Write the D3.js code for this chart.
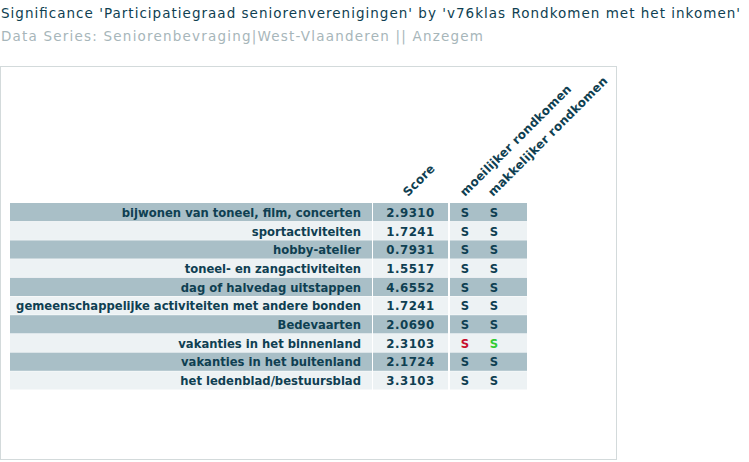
<!DOCTYPE html>
<html><head><meta charset="utf-8">
<script src="https://cdn.jsdelivr.net/npm/d3@7"></script>
<style>
body{margin:0;background:#fff;}
</style></head>
<body>
<svg id="c" width="749" height="462"></svg>
<script>
const title = "Significance 'Participatiegraad seniorenverenigingen' by 'v76klas Rondkomen met het inkomen'";
const subtitle = "Data Series: Seniorenbevraging|West-Vlaanderen || Anzegem";
const categories = ["bijwonen van toneel, film, concerten","sportactiviteiten","hobby-atelier","toneel- en zangactiviteiten","dag of halvedag uitstappen","gemeenschappelijke activiteiten met andere bonden","Bedevaarten","vakanties in het binnenland","vakanties in het buitenland","het ledenblad/bestuursblad"];
const scores = [2.9310,1.7241,0.7931,1.5517,4.6552,1.7241,2.0690,2.3103,2.1724,3.3103];
const groups = ["moeilijker rondkomen","makkelijker rondkomen"];
// significance: 0 = not significant, -1 = lower (red), 1 = higher (green)
const sigMoeilijker = [0,0,0,0,0,0,0,-1,0,0];
const sigMakkelijker = [0,0,0,0,0,0,0,1,0,0];

const svg = d3.select("#c");
const font = "DejaVu Sans, Verdana, sans-serif";
const dark = "#0f3f52";

svg.append("text").attr("x",1).attr("y",18).attr("font-family",font).attr("font-size",13.5)
  .attr("textLength",739).attr("lengthAdjust","spacing").attr("fill",dark).text(title);
svg.append("text").attr("x",1).attr("y",41).attr("font-family",font).attr("font-size",13.5)
  .attr("textLength",482).attr("lengthAdjust","spacing").attr("fill","#a7b6ba").text(subtitle);

// panel
svg.append("rect").attr("x",0.5).attr("y",66.5).attr("width",616).attr("height",393)
  .attr("fill","#fff").attr("stroke","#d3dadb");

const y = d3.scaleBand().domain(d3.range(categories.length)).range([203,390]).paddingInner(0);
const cols = [
  {x0:10, x1:372},   // label
  {x0:373, x1:448},  // score
  {x0:450, x1:527}   // sig
];
const rows = svg.append("g").selectAll("g").data(categories).join("g")
  .attr("transform",(d,i)=>`translate(0,${y(i)})`);
const rowFill = i => i%2===0 ? "#a9bfc7" : "#edf2f4";
cols.forEach(c=>{
  rows.append("rect").attr("x",c.x0).attr("width",c.x1-c.x0).attr("height",y.bandwidth()-0.5)
    .attr("fill",(d,i)=>rowFill(i));
});
const ty = y.bandwidth()/2+4.5;
rows.append("text").attr("x",361).attr("y",ty).attr("text-anchor","end")
  .attr("font-family",font).attr("font-weight","bold").attr("font-size",11.6).attr("fill",dark)
  .text(d=>d);
rows.append("text").attr("x",410.5).attr("y",ty).attr("text-anchor","middle")
  .attr("font-family",font).attr("font-weight","bold").attr("font-size",11.8)
  .attr("letter-spacing",0.5).attr("fill",dark)
  .text((d,i)=>d3.format(".4f")(scores[i]));
const sigColor = v => v<0 ? "#c8102e" : v>0 ? "#33cc33" : dark;
const sx = [465,494];
[sigMoeilijker,sigMakkelijker].forEach((arr,k)=>{
  rows.append("text").attr("x",sx[k]).attr("y",ty).attr("text-anchor","middle")
    .attr("font-family",font).attr("font-weight","bold").attr("font-size",11.6)
    .attr("fill",(d,i)=>sigColor(arr[i])).text("S");
});

// rotated headers
const headers = [{t:"Score",x:410},{t:groups[0],x:467},{t:groups[1],x:495}];
svg.append("g").selectAll("text").data(headers).join("text")
  .attr("transform",d=>`translate(${d.x-2},197) rotate(-45)`)
  .attr("font-family",font).attr("font-weight","bold").attr("font-size",12.0)
  .attr("letter-spacing",0.2).attr("fill",dark)
  .text(d=>d.t);
</script>
</body></html>
